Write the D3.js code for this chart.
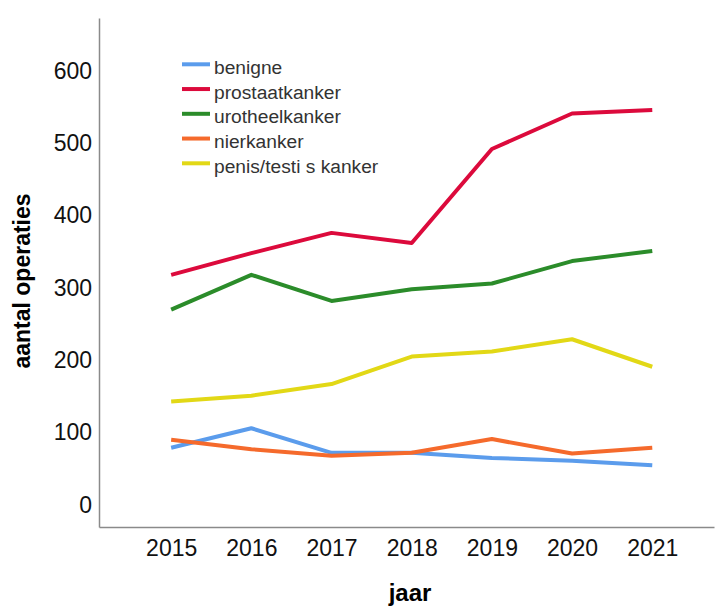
<!DOCTYPE html>
<html>
<head>
<meta charset="utf-8">
<script src="https://cdn.jsdelivr.net/npm/d3@7"></script>
<style>
  body { margin: 0; background: #fff; }
  svg { display: block; font-family: "Liberation Sans", Arial, sans-serif; }
</style>
</head>
<body>
<svg id="chart" width="715" height="608"></svg>
<script>
const years = [2015, 2016, 2017, 2018, 2019, 2020, 2021];
const seriesNames = ["benigne", "prostaatkanker", "urotheelkanker", "nierkanker", "penis/testis kanker"];
const benigne = [79, 106, 72, 72, 65, 61, 55];
const prostaatkanker = [318, 348, 376, 362, 492, 541, 546];
const urotheelkanker = [270, 318, 282, 298, 306, 337, 351];
const nierkanker = [90, 77, 68, 72, 91, 71, 79];
const penisTestis = [143, 151, 167, 205, 212, 229, 191];
const yTicks = [0, 100, 200, 300, 400, 500, 600];
const colors = ["#5b9cec", "#dc0a3c", "#2b8c2a", "#f56a2c", "#e2d816"];

const seriesValues = [benigne, prostaatkanker, urotheelkanker, nierkanker, penisTestis];

const svg = d3.select("#chart");
const x = d3.scaleLinear().domain([2014.1, 2021.77]).range([99, 714]);
const y = d3.scaleLinear().domain([-30.5, 673]).range([527, 18]);

// axes
const xAxis = svg.append("g").attr("transform", `translate(0,${y(-30.5)})`)
  .call(d3.axisBottom(x).tickValues(years).tickFormat(d3.format("d")).tickSize(0).tickPadding(13));
xAxis.select(".domain").attr("stroke", "#8a8a8a").attr("stroke-width", 1.5);
xAxis.selectAll("text").attr("font-size", 23).attr("fill", "#111")
  .attr("font-family", "Liberation Sans, Arial, sans-serif");

const yAxis = svg.append("g").attr("transform", `translate(${x(2014.1)},0)`)
  .call(d3.axisLeft(y).tickValues(yTicks).tickSize(0).tickPadding(7));
yAxis.select(".domain").attr("stroke", "#8a8a8a").attr("stroke-width", 1.5);
yAxis.selectAll("text").attr("font-size", 23).attr("fill", "#111")
  .attr("font-family", "Liberation Sans, Arial, sans-serif");

// axis titles
svg.append("text").attr("transform", "translate(30,281) rotate(-90)")
  .attr("text-anchor", "middle").attr("font-size", 23).attr("font-weight", "bold")
  .attr("fill", "#000").text("aantal operaties");
svg.append("text").attr("x", 410).attr("y", 601)
  .attr("text-anchor", "middle").attr("font-size", 24).attr("font-weight", "bold")
  .attr("fill", "#000").text("jaar");

// lines
const line = d3.line().x((d, i) => x(years[i])).y(d => y(d));
seriesValues.forEach((vals, k) => {
  svg.append("path").datum(vals)
    .attr("fill", "none").attr("stroke", colors[k]).attr("stroke-width", 4)
    .attr("stroke-linejoin", "round").attr("d", line);
});

// legend
const lg = svg.append("g").attr("transform", "translate(182,64.3)");
seriesNames.forEach((name, k) => {
  const g = lg.append("g").attr("transform", `translate(0,${k * 24.75})`);
  g.append("line").attr("x1", 0).attr("x2", 28).attr("y1", 0).attr("y2", 0)
    .attr("stroke", colors[k]).attr("stroke-width", 4);
  g.append("text").attr("x", 32).attr("y", 9.5).attr("font-size", 19.2)
    .attr("fill", "#333").text(name === "penis/testis kanker" ? "penis/testi s kanker" : name);
});
</script>
</body>
</html>
